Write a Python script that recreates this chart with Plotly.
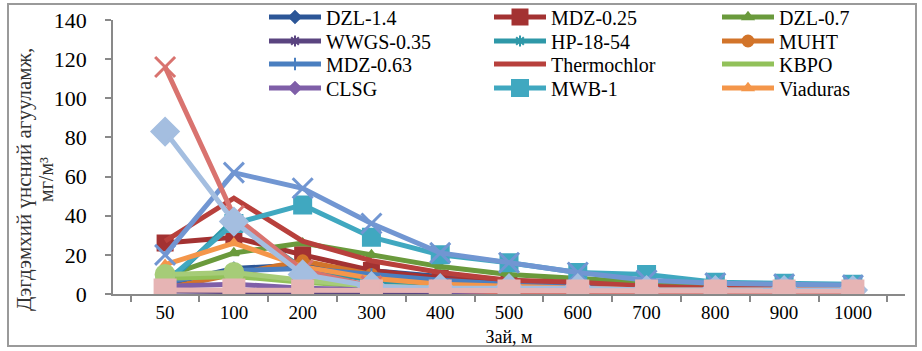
import plotly.graph_objects as go

distances = ["50", "100", "200", "300", "400", "500", "600", "700", "800", "900", "1000"]

# legend series (order as in the legend, row by row)
dzl_1_4 = [5, 13, 15, 12, 9, 7, 5, 4, 3, 2, 2]
mdz_0_25 = [26, 29, 20, 12, 8, 6, 4, 3, 2, 2, 2]
dzl_0_7 = [9, 21, 26, 20, 14, 10, 8, 6, 4, 3, 3]
wwgs_0_35 = [1.5, 1.5, 1, 0.3, 0.2, 0.2, 0.1, 0.1, 0.1, 0.1, 0.1]
hp_18_54 = [4, 38, 13, 7, 4, 3, 2, 2, 1, 1, 1]
muht = [3, 10, 17, 10, 6, 4, 3, 2, 2, 1, 1]
mdz_0_63 = [6, 12, 13, 10, 7, 5, 4, 3, 2, 2, 2]
thermochlor = [27, 49, 27, 17, 11, 7, 6, 4, 3, 3, 2]
kbpo = [8, 9, 6, 4, 3, 2, 2, 1, 1, 1, 1]
clsg = [4, 5, 3, 2, 1.5, 1, 1, 1, 1, 1, 1]
mwb_1 = [6, 36, 45.5, 29, 20, 16, 11, 10, 6, 5.5, 5]
viaduras = [15, 26, 14, 8, 5, 4, 3, 2, 2, 2, 2]

# further series drawn in the chart but cut from its legend
extra_blue_x = [20, 62, 54, 36, 21, 16, 11, 7, 5.5, 5, 4.5]
extra_red_x = [116, 40, 12, 4, 2, 1, 1, 1, 1, 1, 1]
extra_green_o = [10, 11, 7, 4, 3, 2, 2, 1.5, 1, 1, 1]
extra_blue_diamond = [83, 37, 10, 4, 3, 3, 3, 2, 2, 2, 2]
extra_pink_square = [2, 2, 1.5, 1.5, 1.5, 1.5, 1.5, 1.5, 1.5, 1.5, 1.5]

# (name, values, colour, marker, size)
legend_series = [
    ("DZL-1.4", dzl_1_4, "#2C5697", "diamond", 9),
    ("MDZ-0.25", mdz_0_25, "#A33232", "square", 15),
    ("DZL-0.7", dzl_0_7, "#6A9A3C", "triangle-up", 9),
    ("WWGS-0.35", wwgs_0_35, "#5A4480", "asterisk-open", 9),
    ("HP-18-54", hp_18_54, "#2E98A8", "asterisk-open", 9),
    ("MUHT", muht, "#D2742A", "circle", 11),
    ("MDZ-0.63", mdz_0_63, "#4A7FC0", "line-ns-open", 9),
    ("Thermochlor", thermochlor, "#B8403C", None, 0),
    ("KBPO", kbpo, "#92C15A", None, 0),
    ("CLSG", clsg, "#7F5FA8", "diamond", 9),
    ("MWB-1", mwb_1, "#40A8C0", "square", 17),
    ("Viaduras", viaduras, "#F4964A", "triangle-up", 9),
]

extra_series = [
    (extra_green_o, "#A6CC78", "circle", 18),
    (extra_blue_x, "#7196D2", "x-thin-open", 20),
    (extra_red_x, "#D9736F", "x-thin-open", 20),
    (extra_blue_diamond, "#A4BEE0", "diamond", 20),
    (extra_pink_square, "#E6B4B4", "square", 20),
]

L, R, T, B = 113, 17, 20, 57
W, H = 922, 351
pw, ph = W - L - R, H - T - B

def px(x):
    return (x - L) / pw

def py(y):
    return (H - B - y) / ph

serif = "Liberation Serif"
col_x = [264, 489, 717]
row_y = [17, 41, 64, 88]

fig = go.Figure()
legends = {}

for i, (name, vals, col, sym, size) in enumerate(legend_series):
    key = "legend" if i == 0 else "legend%d" % (i + 1)
    legends[key] = dict(
        orientation="v", x=px(col_x[i % 3]), y=py(row_y[i // 3]),
        xanchor="left", yanchor="middle",
        bgcolor="rgba(0,0,0,0)", font=dict(family=serif, size=20, color="black"),
        itemwidth=52, tracegroupgap=0,
    )
    if sym is None:
        fig.add_trace(go.Scatter(x=distances, y=vals, name=name, mode="lines", legend=key,
                                 line=dict(color=col, width=5)))
    else:
        fig.add_trace(go.Scatter(
            x=distances, y=vals, name=name, mode="lines+markers", legend=key,
            line=dict(color=col, width=5),
            marker=dict(symbol=sym, size=size, color=col, line=dict(color=col, width=2))))

for vals, col, sym, size in extra_series:
    fig.add_trace(go.Scatter(
        x=distances, y=vals, mode="lines+markers", showlegend=False,
        line=dict(color=col, width=5),
        marker=dict(symbol=sym, size=size, color=col, line=dict(color=col, width=3))))

fig.update_layout(
    width=W, height=H,
    margin=dict(l=L, r=R, t=T, b=B, autoexpand=False),
    paper_bgcolor="white", plot_bgcolor="white",
    font=dict(family=serif, color="black"),
    showlegend=True,
    xaxis=dict(
        type="category", tickson="boundaries", ticks="outside", ticklen=6,
        tickcolor="#898989", tickwidth=1.5,
        showline=True, linecolor="#898989", linewidth=1.5, showgrid=False,
        tickfont=dict(family=serif, size=19, color="black"),
        title=dict(text="Зай, м", font=dict(family=serif, size=18, color="black"), standoff=9),
    ),
    yaxis=dict(
        range=[0, 140], dtick=20, ticks="outside", ticklen=6,
        tickcolor="#898989", tickwidth=1.5,
        showline=True, linecolor="#898989", linewidth=1.5, showgrid=False, zeroline=False,
        tickfont=dict(family=serif, size=22, color="black"),
        ticklabelstandoff=14,
    ),
    shapes=[dict(type="rect", xref="paper", yref="paper",
                 x0=px(8), x1=px(916), y0=py(346), y1=py(4),
                 line=dict(color="#9a9a9a", width=2), fillcolor="rgba(0,0,0,0)", layer="below")],
    annotations=[
        dict(text="Дэгдэмхий үнсний агууламж,", textangle=-90, xref="paper", yref="paper",
             x=px(24), y=py(180), xanchor="center", yanchor="middle", showarrow=False,
             font=dict(family=serif, size=21, color="#333333")),
        dict(text="мг/м³", textangle=-90, xref="paper", yref="paper",
             x=px(46), y=py(180), xanchor="center", yanchor="middle", showarrow=False,
             font=dict(family=serif, size=20, color="#333333")),
    ],
)
fig.update_layout(**legends)

fig.write_html("out.html")
